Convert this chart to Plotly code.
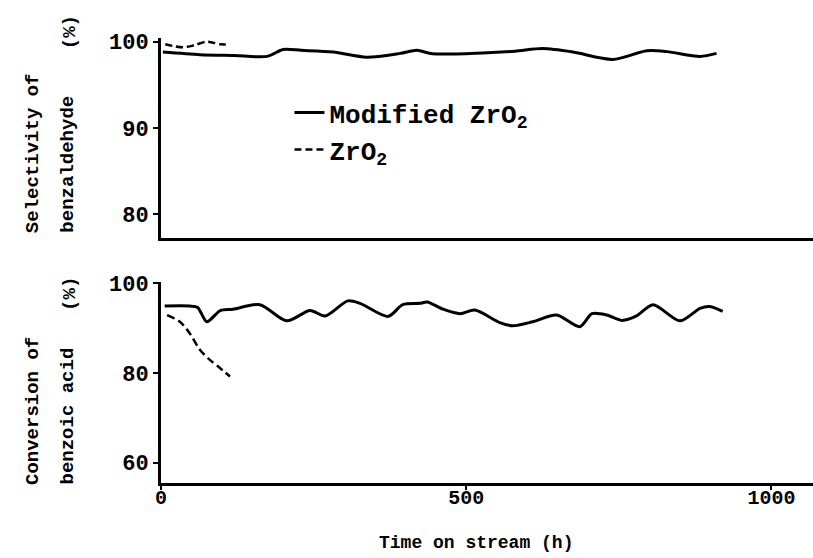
import plotly.graph_objects as go

# ---------------- data ----------------
sel_mod_time = [3, 64, 120, 174, 200, 230, 282, 337, 392, 419, 445, 527, 580, 625, 675, 740, 796, 829, 883, 910]
sel_mod_val = [98.8, 98.5, 98.4, 98.3, 99.1, 99.0, 98.8, 98.2, 98.65, 99.0, 98.6, 98.7, 98.9, 99.2, 98.8, 97.95, 98.95, 98.85, 98.3, 98.65]

sel_zr_time = [7, 20, 36, 55, 75, 97, 113]
sel_zr_val = [99.7, 99.5, 99.35, 99.6, 100.0, 99.7, 99.7]

conv_mod_time = [6, 47, 60, 75, 97, 118, 162, 206, 244, 269, 306, 326, 372, 396, 424, 436, 462, 490, 514,
                 555, 576, 609, 648, 686, 706, 730, 755, 779, 806, 850, 883, 899, 920]
conv_mod_val = [94.9, 94.9, 94.6, 91.4, 93.9, 94.2, 95.2, 91.6, 93.9, 92.7, 96.05, 95.5, 92.6, 95.2, 95.5, 95.8,
                94.2, 93.2, 94.0, 91.2, 90.5, 91.4, 92.9, 90.3, 93.2, 92.9, 91.7, 92.7, 95.2, 91.6, 94.4, 94.8, 93.7]

conv_zr_time = [10, 31, 47, 64, 80, 97, 113]
conv_zr_val = [92.9, 91.4, 88.85, 85.1, 82.9, 81.05, 79.2]

sel_ticks = [80, 90, 100]
conv_ticks = [60, 80, 100]
time_ticks = [0, 500, 1000]

series_names = ["Modified ZrO<sub>2</sub>", "ZrO<sub>2</sub>"]

# ---------------- figure ----------------
MONO = "Liberation Mono, DejaVu Sans Mono, monospace"
BLACK = "#000000"

fig = go.Figure()

fig.add_trace(go.Scatter(x=sel_mod_time, y=sel_mod_val, mode="lines", name=series_names[0],
                         line=dict(color=BLACK, width=3, shape="spline", smoothing=0.8),
                         xaxis="x", yaxis="y", legendgroup="a"))
fig.add_trace(go.Scatter(x=sel_zr_time, y=sel_zr_val, mode="lines", name=series_names[1],
                         line=dict(color=BLACK, width=2.5, dash="7px,4px", shape="spline", smoothing=0.8),
                         xaxis="x", yaxis="y", legendgroup="b"))
fig.add_trace(go.Scatter(x=conv_mod_time, y=conv_mod_val, mode="lines", showlegend=False,
                         line=dict(color=BLACK, width=3, shape="spline", smoothing=0.8),
                         xaxis="x2", yaxis="y2"))
fig.add_trace(go.Scatter(x=conv_zr_time, y=conv_zr_val, mode="lines", showlegend=False,
                         line=dict(color=BLACK, width=2.5, dash="8px,4px", shape="spline", smoothing=0.8),
                         xaxis="x2", yaxis="y2"))

tickfont_y = dict(family=MONO, size=22, color=BLACK, weight="bold")
tickfont_x = dict(family=MONO, size=20, color=BLACK, weight="bold")

fig.update_layout(
    width=813, height=558,
    margin=dict(l=161, r=0, t=38, b=75),
    paper_bgcolor="white", plot_bgcolor="white",
    showlegend=True,
    legend=dict(x=0.197, y=0.885, xanchor="left", yanchor="top",
                font=dict(family=MONO, size=26, color=BLACK, weight="bold"),
                bgcolor="rgba(0,0,0,0)", borderwidth=0, tracegroupgap=0, itemwidth=30),
    xaxis=dict(domain=[0, 1], range=[0, 1068], anchor="y", showline=True, linewidth=3, linecolor=BLACK,
               showgrid=False, zeroline=False, ticks="", showticklabels=False),
    yaxis=dict(domain=[0.551, 1], range=[77.27, 100.43], anchor="x", showline=True, linewidth=3,
               linecolor=BLACK, showgrid=False, zeroline=False, tickmode="array", tickvals=sel_ticks,
               ticks="outside", ticklen=5, tickwidth=2, tickcolor=BLACK, tickfont=tickfont_y),
    xaxis2=dict(domain=[0, 1], range=[0, 1068], anchor="y2", showline=True, linewidth=3, linecolor=BLACK,
                showgrid=False, zeroline=False, tickmode="array", tickvals=time_ticks,
                ticks="outside", ticklen=4, tickwidth=2, tickcolor=BLACK, tickfont=tickfont_x,
                ticklabelstandoff=-10),
    yaxis2=dict(domain=[0, 0.452], range=[55.47, 100.29], anchor="x2", showline=True, linewidth=3,
                linecolor=BLACK, showgrid=False, zeroline=False, tickmode="array", tickvals=conv_ticks,
                ticks="outside", ticklen=5, tickwidth=2, tickcolor=BLACK, tickfont=tickfont_y),
)

title_font = dict(family=MONO, size=19, color=BLACK, weight="bold")

def ytitle(text, xpix, ybottom):
    fig.add_annotation(text=text, xref="paper", yref="paper", x=(xpix - 161) / 652, y=ybottom,
                       xanchor="center", yanchor="bottom", textangle=-90, showarrow=False, font=title_font)

ytitle("Selectivity of", 33, 0.557)
ytitle("benzaldehyde", 68, 0.557)
ytitle("Conversion of", 33, -0.009)
ytitle("benzoic acid", 68, -0.009)

fig.add_annotation(text="(%)", xref="paper", yref="paper", x=(70 - 161) / 652, y=1.013,
                   xanchor="center", yanchor="middle", textangle=-90, showarrow=False, font=title_font)
fig.add_annotation(text="(%)", xref="paper", yref="paper", x=(70 - 161) / 652, y=0.425,
                   xanchor="center", yanchor="middle", textangle=-90, showarrow=False, font=title_font)
fig.add_annotation(text="Time on stream (h)", xref="paper", yref="paper", x=0.483, y=-0.135,
                   xanchor="center", yanchor="middle", showarrow=False,
                   font=dict(family=MONO, size=18, color=BLACK, weight="bold"))

fig.write_html("out.html")
